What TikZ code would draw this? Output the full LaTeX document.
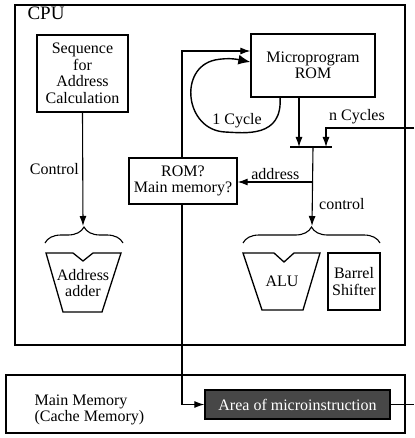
\documentclass[tikz,border=0pt]{standalone}
\usepackage{fontspec}
\setmainfont{Liberation Serif}
\usetikzlibrary{arrows.meta,decorations.pathreplacing,positioning}
\tikzset{%
	unit/.style  = {draw, line width=1.3pt, align=center, inner sep=2pt},
	area/.style  = {draw, line width=1.4pt, fill=black!72, text=white, inner sep=2pt},
	sig/.style   = {line width=1.1pt, -{Latex[length=10pt,width=7pt]}},
	wire/.style  = {line width=1.1pt},
	brc/.style   = {line width=1.1pt, decorate, decoration={brace, amplitude=16pt}},
	alu/.style   = {line width=1.3pt, line join=miter},
}

\begin{document}
\begin{tikzpicture}[x=1pt, y=-1pt, font=\fontsize{16}{16.5}\selectfont]
		\useasboundingbox (0,0) rectangle (414,438);
		\draw[line width=1.4pt] (15,5) rectangle (405,345);  % CPU
		\draw[line width=1.4pt] (6,375) rectangle (405,433);  % Main memory
		\node[font=\fontsize{19}{19}\selectfont, anchor=north west] (cpu) at (24,3) {CPU};
		\node[align=left, anchor=west] (mm) at (31,410) {Main Memory\\(Cache Memory)};
		% units
		\node[unit, minimum width=91pt, minimum height=77pt] (seq) at (82.5,73.5) {Sequence\\for\\Address\\Calculation};
		\node[unit, minimum width=124pt, minimum height=63pt] (rom) at (313,65.5) {Microprogram\\ROM};
		\node[unit, minimum width=108pt, minimum height=46pt] (sel) at (183,181) {ROM?\\Main memory?};
		\node[unit, minimum width=52pt, minimum height=57pt] (shift) at (354,281.5) {Barrel\\Shifter};
		\node[area, minimum width=185pt, minimum height=29pt] (mic) at (297.5,404.5) {Area of microinstruction};
		% adders
		\draw[alu] (46,253) -- (73,253) -- (83,261) -- (93,253) -- (121,253) -- (102,312) -- (63,312) -- cycle;
		\node[align=center] (adder) at (83,283) {Address\\adder};
		\draw[alu] (243,253) -- (274,253) -- (284,262) -- (294,253) -- (320,253) -- (303,310) -- (262,310) -- cycle;
		\node (alu) at (282,281) {ALU};
		\draw[brc] (45,243) -- (123,243);
		\draw[brc] (243,243) -- (380,243);
		\coordinate (tipL) at (83,226);
		\coordinate (tipR) at (312,226);
		% bar
		\coordinate (barL) at (290,147);
		\coordinate (barR) at (332,147);
		\coordinate (barM) at (313,147);
		\draw[line width=1.6pt] (barL) -- (barR);
		% connectors
		\draw[sig] (seq.south) -- (tipL) node[pos=0.5, left] {Control};
		\draw[sig] (rom.south -| 299,0) -- (299,147);
		\draw[sig] (414,128) -- (326,128) -- (326,147);
		\node (ncyc) at (357,117) {n Cycles};
		\draw[sig] (barM) -- (tipR) node[pos=0.72, right=3pt] {control};
		\draw[sig] (313,182) -- (sel.east |- 0,182) node[pos=0.5, above=-2pt] {address};
		\draw[sig] (sel.north -| 182,0) -- (182,51) -- (rom.west |- 0,51);
		\draw[sig] (sel.south -| 182,0) -- (182,404.5) -- (mic.west);
		\draw[wire] (mic.east) -- (414,404.5);
		\draw[line width=1.4pt, -{Latex[length=12pt,width=10pt]}] (280,97) .. controls (283,138) and (245,133) .. (225,132)
			.. controls (185,130) and (178,68) .. (215,60) .. controls (230,57) and (240,60) .. (rom.west |- 0,62);
		\node (cyc) at (237,121) {1 Cycle};
\end{tikzpicture}
\end{document}
